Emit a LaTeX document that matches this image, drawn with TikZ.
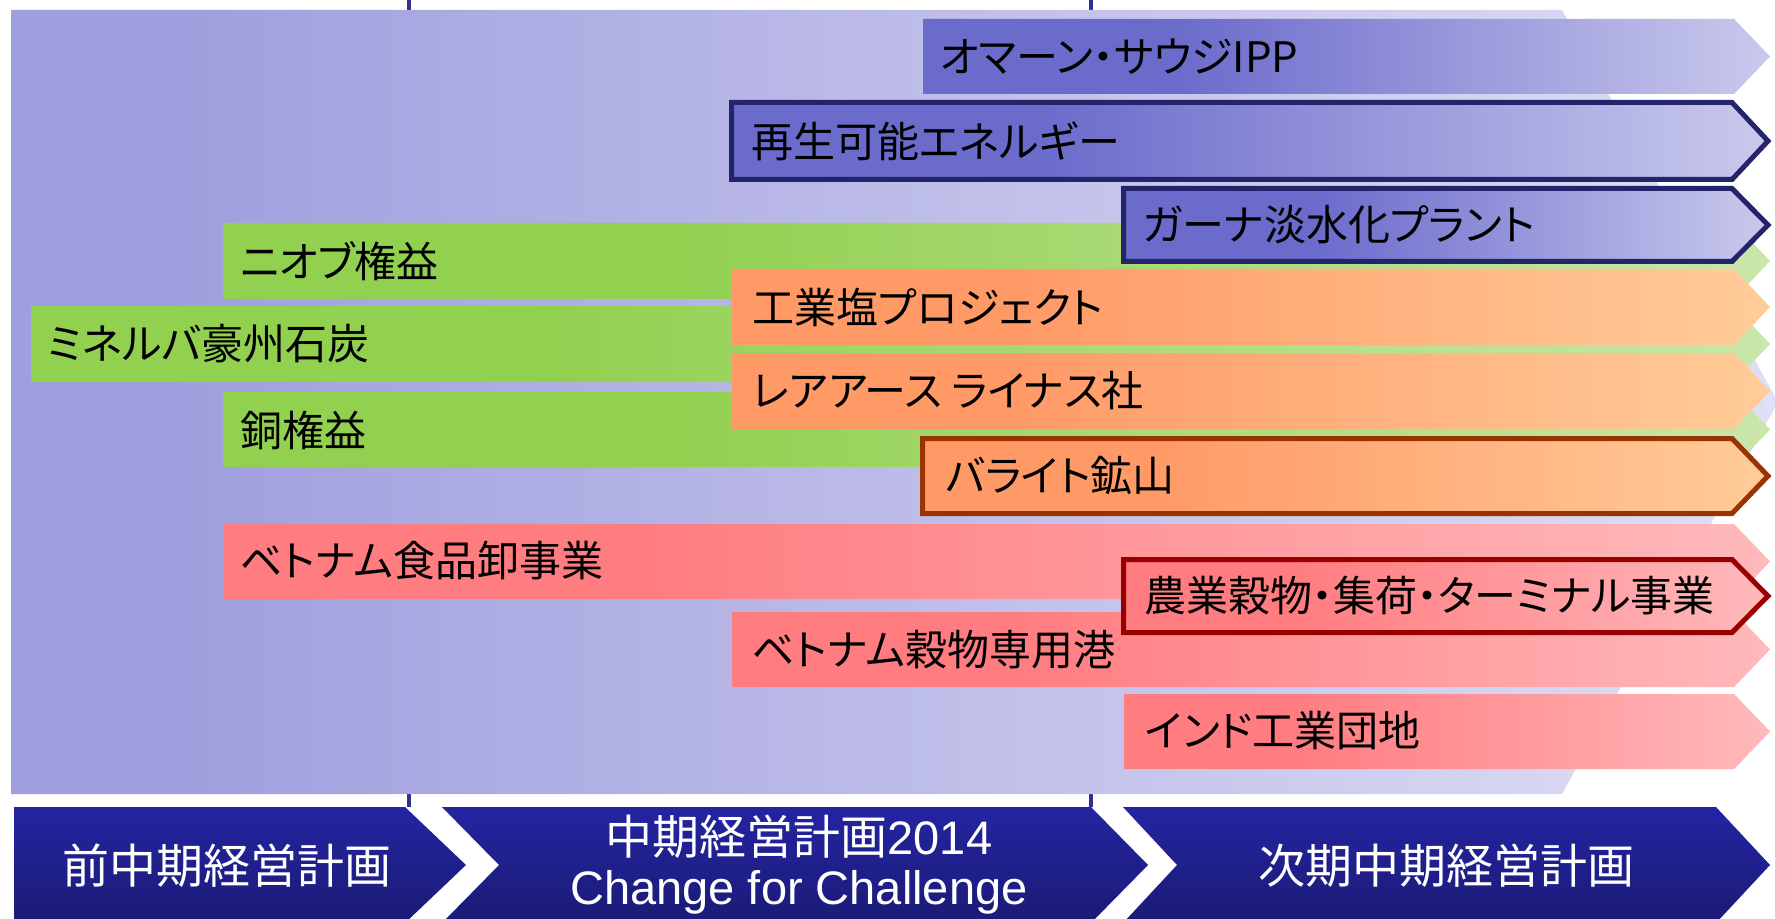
\documentclass[tikz,border=0pt]{standalone}
\usepackage{fontspec}
\setmainfont{Liberation Sans}
\newfontfamily\jp[RawFeature=+palt]{Noto Sans CJK JP}
\pgfdeclarehorizontalshading{bgshade}{100bp}{rgb(0bp)=(0.624,0.620,0.871); rgb(25bp)=(0.624,0.620,0.871); rgb(29bp)=(0.624,0.620,0.871); rgb(75bp)=(0.875,0.875,0.960); rgb(100bp)=(0.875,0.875,0.960)}
\pgfdeclarehorizontalshading{blueshade}{100bp}{rgb(0bp)=(0.420,0.420,0.800); rgb(25bp)=(0.420,0.420,0.800); rgb(40bp)=(0.420,0.420,0.800); rgb(75bp)=(0.790,0.790,0.930); rgb(100bp)=(0.790,0.790,0.930)}
\pgfdeclarehorizontalshading{greenshade}{100bp}{rgb(0bp)=(0.573,0.816,0.314); rgb(25bp)=(0.573,0.816,0.314); rgb(40bp)=(0.573,0.816,0.314); rgb(75bp)=(0.790,0.905,0.665); rgb(100bp)=(0.790,0.905,0.665)}
\pgfdeclarehorizontalshading{orangeshade}{100bp}{rgb(0bp)=(1,0.600,0.400); rgb(25bp)=(1,0.600,0.400); rgb(38bp)=(1,0.600,0.400); rgb(75bp)=(1,0.800,0.600); rgb(100bp)=(1,0.800,0.600)}
\pgfdeclarehorizontalshading{pinkshade}{100bp}{rgb(0bp)=(1,0.486,0.502); rgb(25bp)=(1,0.486,0.502); rgb(38bp)=(1,0.486,0.502); rgb(75bp)=(1,0.725,0.735); rgb(100bp)=(1,0.725,0.735)}
\definecolor{sepcol}{RGB}{46,49,146}
\definecolor{navyborder}{RGB}{36,36,106}
\definecolor{brownborder}{RGB}{153,51,0}
\definecolor{redborder}{RGB}{153,0,0}
\definecolor{plantop}{RGB}{36,36,162}
\definecolor{planbot}{RGB}{27,27,118}
\newcommand\arrowbox[4]{%
  \path[#4] (#1,#2) -- (1734,#2) -- (1770,{(#2+#3)/2}) -- (1734,#3) -- (#1,#3) -- cycle;}
\newcommand\bordbox[4]{%
  \path[#4] (#1+2.5,#2+2.5) -- (1732,#2+2.5) -- (1768,{(#2+#3)/2}) -- (1732,#3-2.5) -- (#1+2.5,#3-2.5) -- cycle;}
\tikzset{
  lbl/.style={anchor=west, inner sep=0pt, text=black, font=\jp\fontsize{21}{25}\selectfont},
  plantext/.style={inner sep=0pt, text=white, align=center, font=\fontsize{23.5}{28}\selectfont},
  sepline/.style={draw=sepcol, line width=2pt},
  planbox/.style={top color=plantop, bottom color=planbot},
  gbox/.style={shade, shading=greenshade},
  obox/.style={shade, shading=orangeshade},
  pbox/.style={shade, shading=pinkshade},
  bbox/.style={shade, shading=blueshade},
  bord/.style={draw=#1, line width=2.5pt, line join=miter}
}
\begin{document}
\begin{tikzpicture}[x=0.5pt,y=-0.5pt]
\clip (0,0) rectangle (1775,919);
\fill[white] (0,0) rectangle (1775,919);
% period separators
\draw[sepline] (409,0) -- (409,807);
\draw[sepline] (1091,0) -- (1091,807);
% background chevron
\path[shade, shading=bgshade] (11,10) -- (1562,10) -- (1778,402) -- (1562,794) -- (11,794) -- cycle;
% green rows
\arrowbox{223}{223}{299}{gbox}
\arrowbox{31}{306}{382}{gbox}
\arrowbox{223}{392}{467}{gbox}
% pink rows
\arrowbox{223}{524}{599}{pbox}
\arrowbox{732}{612}{687}{pbox}
\arrowbox{1124}{694}{769}{pbox}
% blue rows
\arrowbox{923}{19}{94}{bbox}
\bordbox{729}{100}{182}{bbox, bord=navyborder}
\bordbox{1121}{186}{264}{bbox, bord=navyborder}
% orange rows
\arrowbox{732}{269}{345}{obox}
\arrowbox{732}{353}{429}{obox}
\bordbox{920}{436}{516}{obox, bord=brownborder}
% red bordered
\bordbox{1121}{557}{635}{pbox, bord=redborder}
% labels
\node[lbl] (oman) at (940,57) {オマーン・サウジIPP};
\node[lbl] (saisei) at (751,141) {再生可能エネルギー};
\node[lbl] (ghana) at (1142,225) {ガーナ淡水化プラント};
\node[lbl] (niob) at (240,261) {ニオブ権益};
\node[lbl] (ensalt) at (752,307) {工業塩プロジェクト};
\node[lbl] (minerva) at (47,344) {ミネルバ豪州石炭};
\node[lbl] (rare) at (752,391) {レアアース ライナス社};
\node[lbl] (dou) at (240,430) {銅権益};
\node[lbl] (barite) at (945,476) {バライト鉱山};
\node[lbl] (vnfood) at (240,561) {ベトナム食品卸事業};
\node[lbl] (nogyo) at (1144,596) {農業穀物・集荷・ターミナル事業};
\node[lbl] (vnport) at (752,650) {ベトナム穀物専用港};
\node[lbl] (india) at (1145,731) {インド工業団地};
% bottom plan chevrons
\path[planbox] (14,807) -- (405,807) -- (466,865) -- (405,923) -- (14,923) -- cycle;
\path[planbox] (442,807) -- (1091,807) -- (1148,865) -- (1091,923) -- (442,923) -- (499,865) -- cycle;
\path[planbox] (1123,807) -- (1716,807) -- (1770,865) -- (1716,923) -- (1123,923) -- (1177,865) -- cycle;
\node[plantext] (prev) at (227,866) {{\jp 前中期経営計画}};
\node[plantext] (cur) at (799,865) {{\jp 中期経営計画}2014\\[-3pt]Change for Challenge};
\node[plantext] (next) at (1446,866) {{\jp 次期中期経営計画}};
\end{tikzpicture}
\end{document}
